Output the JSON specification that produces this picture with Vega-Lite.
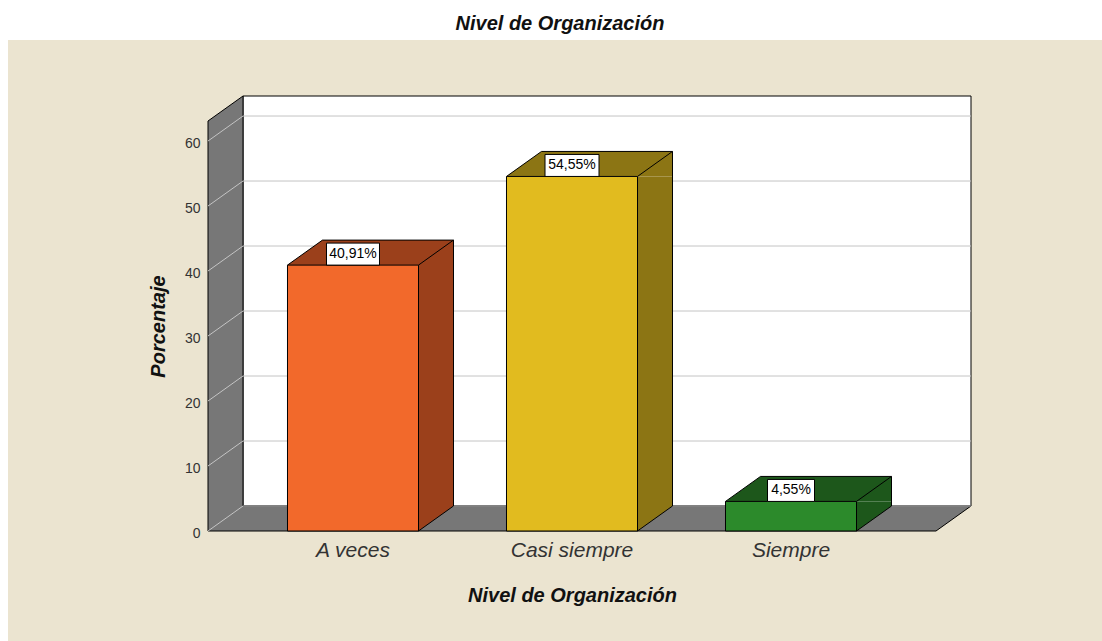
{
  "$schema": "https://vega.github.io/schema/vega-lite/v6.json",
  "width": 728,
  "height": 410,
  "autosize": {"type": "none"},
  "padding": {"left": 208, "top": 121, "right": 166, "bottom": 110},
  "background": "white",
  "title": {"text": "Nivel de Organización", "frame": "group", "anchor": "middle", "dx": -12, "offset": 6, "fontSize": 20, "fontStyle": "italic", "fontWeight": "bold", "font": "Liberation Sans", "color": "#111111"},
  "config": {
    "font": "Liberation Sans",
    "view": {"stroke": null},
    "locale": {"number": {"decimal": ",", "thousands": ".", "grouping": [3], "currency": ["", "%"]}}
  },
  "data": {"values": [
    {"Nivel": "A veces", "Porcentaje": 40.91},
    {"Nivel": "Casi siempre", "Porcentaje": 54.55},
    {"Nivel": "Siempre", "Porcentaje": 4.55}
  ]},
  "layer": [
    {
      "data": {"values": [{}]},
      "mark": {"type": "rect", "fill": "#EBE4D0", "xOffset": -200, "x2Offset": 166, "yOffset": -81, "y2Offset": 110},
      "encoding": {"x": {"value": 0}, "x2": {"value": "width"}, "y": {"value": 0}, "y2": {"value": "height"}}
    },
    {
      "data": {"values": [{}]},
      "mark": {"type": "rect", "fill": "white", "stroke": "black", "strokeWidth": 1, "xOffset": 35, "x2Offset": 35, "yOffset": -25, "y2Offset": -25},
      "encoding": {"x": {"value": 0}, "x2": {"value": "width"}, "y": {"datum": 63.08, "type": "quantitative"}, "y2": {"datum": 0}}
    },
    {
      "data": {"values": [{}]},
      "mark": {"type": "point", "shape": "M-364 -410 L-364 0 L364 0 L399 -25 L-329 -25 L-329 -435 Z", "size": 4, "filled": true, "fill": "#777777", "stroke": "black", "strokeWidth": 1, "opacity": 1},
      "encoding": {"y": {"datum": 0, "type": "quantitative"}}
    },
    {
      "data": {"values": [{"g": 0}, {"g": 10}, {"g": 20}, {"g": 30}, {"g": 40}, {"g": 50}, {"g": 60}]},
      "mark": {"type": "point", "shape": "M-364 0 L-329 -25 L399 -25", "size": 4, "filled": false, "stroke": "#C4C4C4", "strokeWidth": 1, "opacity": 1},
      "encoding": {"y": {"field": "g", "type": "quantitative", "title": "Porcentaje"}}
    },
    {
      "mark": {"type": "bar", "width": 35, "xOffset": 83, "y2Offset": -25},
      "encoding": {
        "x": {"field": "Nivel", "type": "nominal"},
        "y": {"field": "Porcentaje", "type": "quantitative"},
        "y2": {"datum": 0},
        "fill": {"field": "Nivel", "type": "nominal", "scale": {"domain": ["A veces", "Casi siempre", "Siempre"], "range": ["#9B401B", "#8C7514", "#1D571B"]}, "legend": null}
      }
    },
    {
      "mark": {"type": "point", "shape": "M-65.5 0 L100.5 0 L100.5 -25 L-30.5 -25 Z", "size": 4, "filled": true, "strokeWidth": 0, "opacity": 1},
      "encoding": {
        "x": {"field": "Nivel", "type": "nominal"},
        "y": {"field": "Porcentaje", "type": "quantitative"},
        "fill": {"field": "Nivel", "type": "nominal", "scale": {"domain": ["A veces", "Casi siempre", "Siempre"], "range": ["#9B401B", "#8C7514", "#1D571B"]}, "legend": null}
      }
    },
    {
      "mark": {"type": "point", "shape": "M65.5 -25 L100.5 -25 L65.5 0 Z", "size": 4, "filled": true, "strokeWidth": 0, "opacity": 1},
      "encoding": {
        "x": {"field": "Nivel", "type": "nominal"},
        "y": {"datum": 0, "type": "quantitative"},
        "fill": {"field": "Nivel", "type": "nominal", "scale": {"domain": ["A veces", "Casi siempre", "Siempre"], "range": ["#9B401B", "#8C7514", "#1D571B"]}, "legend": null}
      }
    },
    {
      "mark": {"type": "point", "shape": "M-65.5 0 L-30.5 -25 L100.5 -25 M65.5 0 L100.5 -25", "size": 4, "filled": false, "stroke": "black", "strokeWidth": 1, "opacity": 1},
      "encoding": {
        "x": {"field": "Nivel", "type": "nominal"},
        "y": {"field": "Porcentaje", "type": "quantitative"}
      }
    },
    {
      "mark": {"type": "rule", "color": "black", "strokeWidth": 1, "xOffset": 100.5, "yOffset": -25, "y2Offset": -25},
      "encoding": {
        "x": {"field": "Nivel", "type": "nominal"},
        "y": {"field": "Porcentaje", "type": "quantitative"},
        "y2": {"datum": 0}
      }
    },
    {
      "mark": {"type": "point", "shape": "M65.5 0 L100.5 -25", "size": 4, "filled": false, "stroke": "black", "strokeWidth": 1, "opacity": 1},
      "encoding": {
        "x": {"field": "Nivel", "type": "nominal"},
        "y": {"datum": 0, "type": "quantitative"}
      }
    },
    {
      "mark": {"type": "bar", "stroke": "black", "strokeWidth": 1},
      "encoding": {
        "x": {"field": "Nivel", "type": "nominal", "scale": {"paddingInner": 0.4018, "paddingOuter": 0.363, "round": false},
          "axis": {"title": "Nivel de Organización", "labelAngle": 0, "labelAlign": "center", "domain": false, "ticks": false, "labelPadding": 19, "labelFontSize": 21, "labelFontStyle": "italic", "labelColor": "#333333", "titleFontSize": 20, "titleFontStyle": "italic", "titleFontWeight": "bold", "titleColor": "#111111", "titlePadding": 25, "zindex": 1}},
        "y": {"field": "Porcentaje", "type": "quantitative", "scale": {"domain": [0, 63.08], "nice": false, "zero": true},
          "axis": {"title": "Porcentaje", "values": [0, 10, 20, 30, 40, 50, 60], "domain": false, "ticks": false, "grid": false, "labelPadding": 8, "labelOffset": 2, "labelFontSize": 14, "labelColor": "#333333", "titleFontSize": 20, "titleFontStyle": "italic", "titleFontWeight": "bold", "titleColor": "#111111", "titlePadding": 16, "zindex": 1}},
        "y2": {"datum": 0},
        "fill": {"field": "Nivel", "type": "nominal", "scale": {"domain": ["A veces", "Casi siempre", "Siempre"], "range": ["#F2692B", "#E1BB1F", "#2C8A2B"]}, "legend": null}
      }
    },
    {
      "mark": {"type": "point", "size": 4, "filled": true, "fill": "white", "stroke": "black", "strokeWidth": 1, "opacity": 1},
      "encoding": {
        "x": {"field": "Nivel", "type": "nominal"},
        "y": {"field": "Porcentaje", "type": "quantitative"},
        "shape": {"field": "Nivel", "type": "nominal", "scale": {"domain": ["A veces", "Casi siempre", "Siempre"], "range": ["M-26.5 -22 L26.5 -22 L26.5 0 L-26.5 0 Z", "M-27 -22 L27 -22 L27 0 L-27 0 Z", "M-23.5 -22 L23.5 -22 L23.5 0 L-23.5 0 Z"]}, "legend": null}
      }
    },
    {
      "mark": {"type": "text", "dy": -11, "baseline": "middle", "fontSize": 14, "color": "black"},
      "encoding": {
        "x": {"field": "Nivel", "type": "nominal"},
        "y": {"field": "Porcentaje", "type": "quantitative"},
        "text": {"field": "Porcentaje", "type": "quantitative", "format": "$.2f"}
      }
    }
  ],
  "resolve": {"scale": {"fill": "independent"}}
}
